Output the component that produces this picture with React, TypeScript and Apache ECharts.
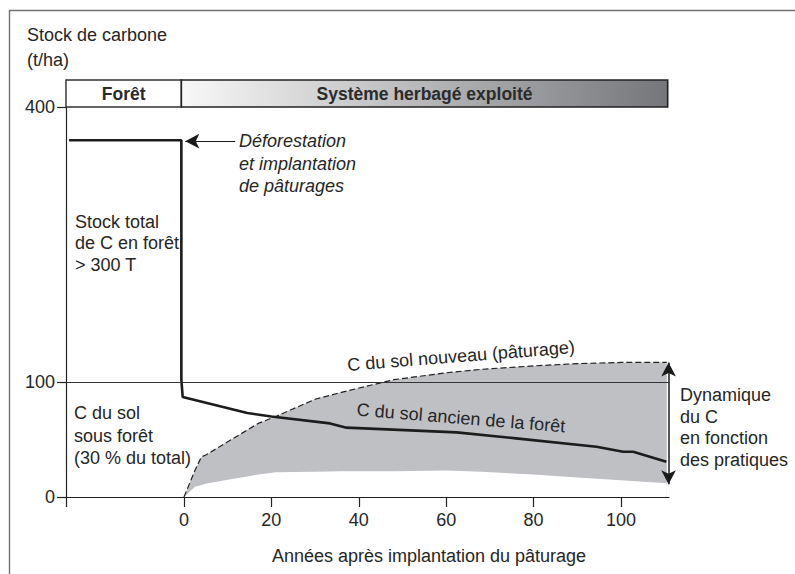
import React, { useEffect, useRef } from "react";
import * as echarts from "echarts";

// ---- data ----
const X_MIN = -27;
const X_MAX = 111;
const xTickValues = [0, 20, 40, 60, 80, 100];
const yLowerTicks = [0, 100];
const yUpperTicks = [400];

// total forest stock before deforestation (upper, broken part of the axis)
const forestX = [-26.3, -0.6, -0.6];
const forestY = [363, 363, 120];

// "C du sol ancien de la forêt"
const ancienX = [-0.6, -0.6, -0.3, 14.5, 20, 33.4, 37.2, 62.4, 76, 94.4, 100.5, 102.8, 110.4];
const ancienY = [120, 102, 87, 73, 70, 64, 60.3, 56.2, 51, 43.7, 39.4, 39.4, 30.7];

// band of new soil carbon (pasture): upper dashed bound and lower bound
const bandX = [0, 2.5, 4, 5, 10, 17, 21, 30, 36, 48, 60, 68, 80, 90, 100, 110.5];
const nouveauY = [0, 23, 35, 36.5, 48, 64, 70, 85, 91, 102, 108, 111, 114, 116, 117, 117];
const lowerY = [0, 9, 10.5, 11.5, 15, 19.5, 21.5, 22, 22.5, 22.5, 23, 22, 19.5, 17, 14.5, 12];

const headerLabels = ["Forêt", "Système herbagé exploité"];
const dynArrow = { x: 110.9, from: 11, to: 117 };
const deforestArrow = { fromX: 11.7, toX: 0.3, y: 362 };

const FONT = "'Liberation Sans', Arial, Helvetica, sans-serif";
const TXT = "#262626";
const FS = 18;

const pairs = (xs: number[], ys: number[]) => xs.map((x, i) => [x, ys[i]]);

export default function App() {
  const ref = useRef<HTMLDivElement>(null);

  useEffect(() => {
    if (!ref.current) return;
    const chart = echarts.init(ref.current, null, { renderer: "svg" });

    const gradient = new echarts.graphic.LinearGradient(0, 0, 1, 0, [
      { offset: 0, color: "#f8f8f8" },
      { offset: 1, color: "#75767a" },
    ]);

    const axisLabelBase = { fontSize: FS, color: TXT, fontFamily: FONT };
    const textStyle = (extra: any) => ({ fontSize: FS, fill: TXT, fontFamily: FONT, ...extra });

    const option: any = {
      animation: false,
      backgroundColor: "#ffffff",
      textStyle: { fontFamily: FONT },
      grid: [
        { left: 66, right: 126, top: 359, bottom: 77 },
        { left: 66, right: 126, top: 80, bottom: 215 },
      ],
      xAxis: [
        {
          type: "value",
          gridIndex: 0,
          min: X_MIN,
          max: X_MAX,
          z: 6,
          axisLine: { show: true, onZero: false, lineStyle: { color: "#222", width: 1.2 } },
          axisTick: {
            show: true,
            length: 10,
            customValues: [X_MIN, ...xTickValues],
            lineStyle: { color: "#222", width: 1.2 },
          },
          axisLabel: { ...axisLabelBase, margin: 14, customValues: xTickValues },
          splitLine: { show: false },
        },
        {
          type: "value",
          gridIndex: 1,
          min: X_MIN,
          max: X_MAX,
          show: false,
          splitLine: { show: false },
        },
      ],
      yAxis: [
        {
          type: "value",
          gridIndex: 0,
          min: 0,
          max: 120,
          z: 6,
          axisLine: { show: true, onZero: false, lineStyle: { color: "#222", width: 1.2 } },
          axisTick: { show: true, length: 9, customValues: yLowerTicks, lineStyle: { color: "#222", width: 1.2 } },
          axisLabel: { ...axisLabelBase, margin: 11, customValues: yLowerTicks },
          splitLine: { show: false },
        },
        {
          type: "value",
          gridIndex: 1,
          min: 120,
          max: 430,
          axisLine: { show: true, onZero: false, lineStyle: { color: "#222", width: 1.2 } },
          axisTick: { show: true, length: 9, customValues: yUpperTicks, lineStyle: { color: "#222", width: 1.2 } },
          axisLabel: { ...axisLabelBase, margin: 11, customValues: yUpperTicks },
          splitLine: { show: false },
        },
      ],
      series: [
        {
          name: "C du sol nouveau (pâturage)",
          type: "line",
          xAxisIndex: 0,
          yAxisIndex: 0,
          symbol: "none",
          lineStyle: { color: "#222", width: 1.2, type: [6, 3] },
          areaStyle: { color: "#bfc0c4", opacity: 1, origin: "start" },
          data: pairs(bandX, nouveauY),
          z: 2,
          markLine: {
            silent: true,
            label: { show: false },
            data: [
              [
                { coord: [dynArrow.x, dynArrow.from], symbol: "arrow", symbolSize: [11, 14] },
                { coord: [dynArrow.x, dynArrow.to], symbol: "arrow", symbolSize: [11, 14] },
              ],
            ],
            lineStyle: { color: "#1a1a1a", width: 1.5, type: "solid" },
          },
        },
        {
          name: "lower bound",
          type: "line",
          xAxisIndex: 0,
          yAxisIndex: 0,
          symbol: "none",
          lineStyle: { opacity: 0 },
          areaStyle: { color: "#ffffff", opacity: 1, origin: "start" },
          data: pairs(bandX, lowerY),
          z: 2,
        },
        {
          name: "C du sol ancien de la forêt",
          type: "line",
          xAxisIndex: 0,
          yAxisIndex: 0,
          symbol: "none",
          lineStyle: { color: "#1c1c1c", width: 2.6 },
          data: pairs(ancienX, ancienY),
          z: 4,
          markLine: {
            silent: true,
            symbol: "none",
            label: { show: false },
            lineStyle: { color: "#333", width: 1.1, type: "solid" },
            data: [{ yAxis: 100 }],
          },
        },
        {
          name: "Forêt",
          type: "line",
          xAxisIndex: 1,
          yAxisIndex: 1,
          symbol: "none",
          lineStyle: { color: "#1c1c1c", width: 2.6 },
          data: pairs(forestX, forestY),
          z: 4,
          markLine: {
            silent: true,
            label: { show: false },
            lineStyle: { color: "#1a1a1a", width: 1.2, type: "solid" },
            data: [
              [
                { coord: [deforestArrow.fromX, deforestArrow.y], symbol: "none" },
                { coord: [deforestArrow.toX, deforestArrow.y], symbol: "arrow", symbolSize: [11, 14] },
              ],
            ],
          },
          markArea: {
            silent: true,
            label: {
              show: true,
              position: "inside",
              fontSize: 17.5,
              fontWeight: "bold",
              color: "#2b2b2b",
              fontFamily: FONT,
            },
            data: [
              [
                {
                  name: headerLabels[0],
                  coord: [X_MIN, 400],
                  itemStyle: { color: "#ffffff", borderColor: "#333", borderWidth: 1.4 },
                },
                { coord: [-0.6, 430] },
              ],
              [
                {
                  name: headerLabels[1],
                  coord: [-0.6, 400],
                  itemStyle: { color: gradient, borderColor: "#222", borderWidth: 1.6 },
                },
                { coord: [X_MAX - 0.3, 430] },
              ],
            ],
          },
        },
      ],
      graphic: [
        {
          type: "polyline",
          silent: true,
          z: 100,
          shape: { points: [[9.5, 575], [9.5, 10.5], [796, 10.5]] },
          style: { stroke: "#727272", lineWidth: 1.4, fill: null },
        },
        {
          type: "text",
          z: 100,
          x: 27,
          y: 22.5,
          style: textStyle({ text: "Stock de carbone\n(t/ha)", lineHeight: 25, textVerticalAlign: "top" }),
        },
        {
          type: "text",
          z: 100,
          x: 75,
          y: 211,
          style: textStyle({ text: "Stock total\nde C en forêt\n> 300 T", lineHeight: 21.5, textVerticalAlign: "top" }),
        },
        {
          type: "text",
          z: 100,
          x: 74,
          y: 402,
          style: textStyle({ text: "C du sol\nsous forêt\n(30 % du total)", lineHeight: 22.5, textVerticalAlign: "top" }),
        },
        {
          type: "text",
          z: 100,
          x: 239,
          y: 130,
          style: textStyle({
            text: "Déforestation\net implantation\nde pâturages",
            fontStyle: "italic",
            lineHeight: 22.5,
            textVerticalAlign: "top",
          }),
        },
        {
          type: "text",
          z: 100,
          x: 680,
          y: 384,
          style: textStyle({
            text: "Dynamique\ndu C\nen fonction\ndes pratiques",
            lineHeight: 21.7,
            textVerticalAlign: "top",
          }),
        },
        {
          type: "text",
          z: 100,
          x: 429,
          y: 556,
          style: textStyle({
            text: "Années après implantation du pâturage",
            textAlign: "center",
            textVerticalAlign: "middle",
          }),
        },
        {
          type: "text",
          z: 100,
          x: 461,
          y: 356,
          rotation: 0.078,
          style: textStyle({
            text: "C du sol nouveau (pâturage)",
            textAlign: "center",
            textVerticalAlign: "middle",
          }),
        },
        {
          type: "text",
          z: 100,
          x: 461,
          y: 418,
          rotation: -0.08,
          style: textStyle({
            text: "C du sol ancien de la forêt",
            textAlign: "center",
            textVerticalAlign: "middle",
          }),
        },
      ],
    };

    chart.setOption(option);
    return () => {
      chart.dispose();
    };
  }, []);

  return (
    <div
      ref={ref}
      style={{ position: "fixed", left: 0, top: 0, width: 795, height: 574, background: "#fff" }}
    />
  );
}
